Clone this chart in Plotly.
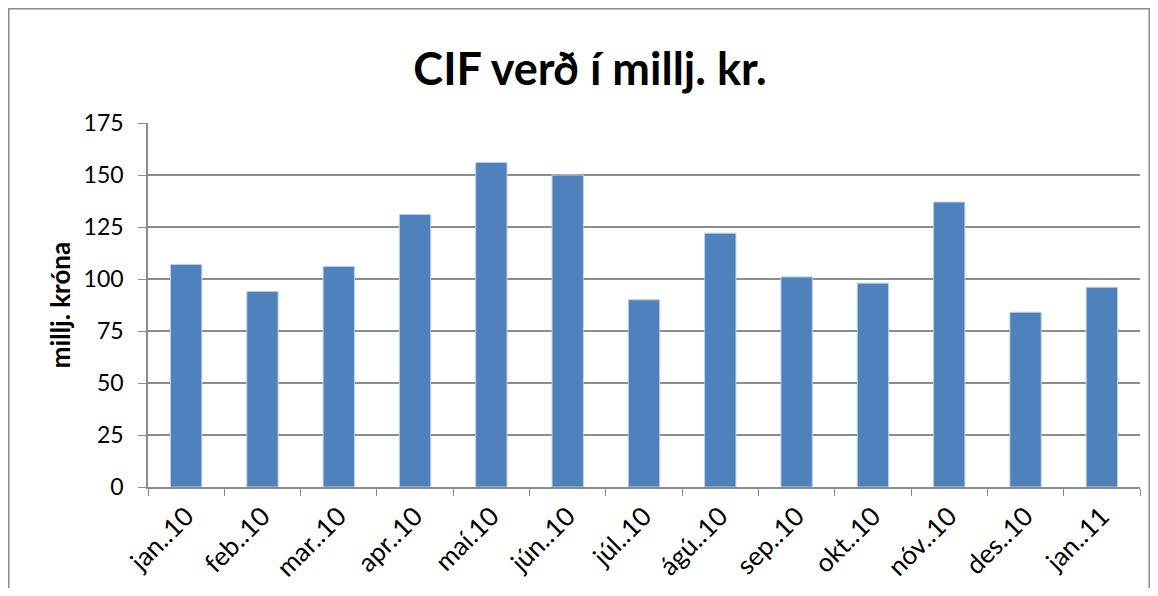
import plotly.graph_objects as go

months = ["jan..10", "feb..10", "mar..10", "apr..10", "maí.10", "jún..10", "júl..10",
          "ágú..10", "sep..10", "okt..10", "nóv..10", "des..10", "jan..11"]
cif_values = [107, 94, 106, 131, 156, 150, 90, 122, 101, 98, 137, 84, 96]
y_ticks = [0, 25, 50, 75, 100, 125, 150, 175]

FONT = "Lato, 'Open Sans', sans-serif"

fig = go.Figure(go.Bar(
    x=months, y=cif_values,
    marker=dict(color="#4F81BD", line=dict(color="#B9CDE5", width=1)),
    width=0.41,
))

# page body has an 8px margin, so the figure starts at (8, 8)
W, H = 1142, 580
L, R, T, B = 140, 10, 115, 101
pw, ph = W - L - R, H - T - B

def px_x(p):
    return (p - L) / pw

def px_y(p):
    return (H - B - p) / ph

fig.update_layout(
    width=W, height=H,
    margin=dict(l=L, r=R, t=T, b=B, autoexpand=False),
    paper_bgcolor="white", plot_bgcolor="white",
    font=dict(family=FONT, color="black", size=20),
    title=dict(text="<b>CIF verð í millj. kr.</b>", x=582 / W, xanchor="center",
               y=1 - 61 / H, yanchor="middle", font=dict(size=45, family=FONT)),
    showlegend=False,
    xaxis=dict(
        automargin=False,
        tickangle=-45, showgrid=False, showline=True, linecolor="#8c8c8c", linewidth=1.5,
        ticks="outside", ticklen=7, tickcolor="#8c8c8c", tickson="boundaries",
        tickfont=dict(size=26, family=FONT), ticklabelstandoff=2,
    ),
    yaxis=dict(
        automargin=False,
        range=[0, 175], tickvals=y_ticks, showgrid=True, gridcolor="#8c8c8c", gridwidth=1.5,
        showline=True, linecolor="#8c8c8c", linewidth=1.5, ticks="outside", ticklen=8,
        tickcolor="#8c8c8c", tickfont=dict(size=23, family=FONT), zeroline=False,
        ticklabelstandoff=10,
        title=dict(text="<b>millj. króna</b>", font=dict(size=26, family=FONT), standoff=6),
    ),
    shapes=[dict(type="rect", xref="paper", yref="paper",
                 x0=px_x(0.75), x1=px_x(W - 0.75), y0=px_y(H + 20), y1=px_y(0.75),
                 line=dict(color="#8c8c8c", width=1.5), fillcolor="rgba(0,0,0,0)", layer="below")],
)

fig.write_html("out.html")
